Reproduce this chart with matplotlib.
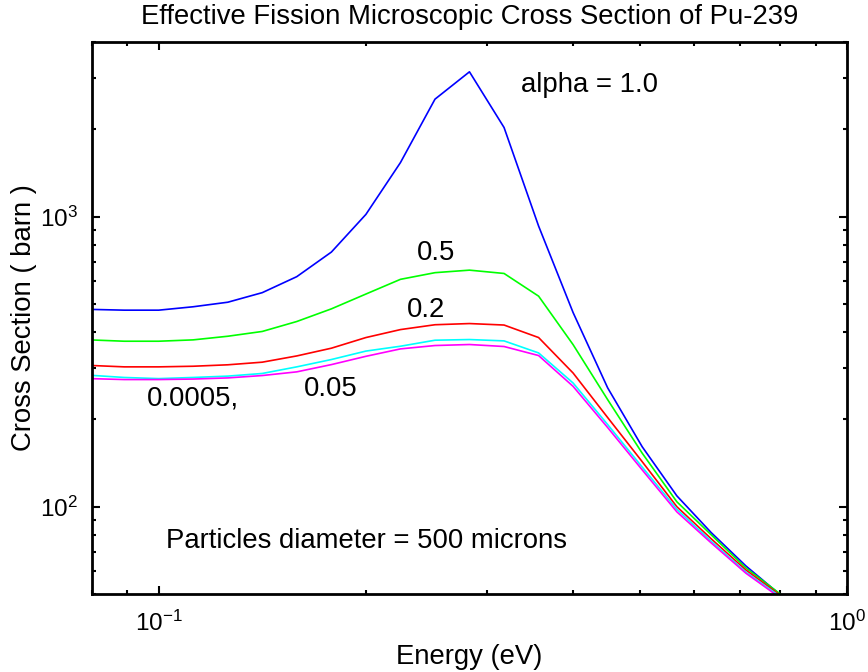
import matplotlib
matplotlib.use('Agg')
import matplotlib.pyplot as plt

plt.rcParams['font.family'] = ['Liberation Sans', 'DejaVu Sans']
plt.rcParams['mathtext.fontset'] = 'custom'
plt.rcParams['mathtext.rm'] = 'Liberation Sans'
plt.rcParams['mathtext.it'] = 'Liberation Sans:italic'
plt.rcParams['mathtext.bf'] = 'Liberation Sans:bold'
plt.rcParams['axes.unicode_minus'] = False

# energy group points (eV)
energy = [0.0794, 0.0891, 0.1, 0.1122, 0.126, 0.1414, 0.1587, 0.1782, 0.2,
          0.2245, 0.252, 0.2828, 0.3175, 0.3564, 0.4, 0.449, 0.504, 0.566,
          0.635, 0.713, 0.8]

# effective fission cross section (barn) for each alpha
sigma_a1 = [479, 476, 476, 489, 507, 547, 621, 755, 1018, 1536, 2541, 3157,
            2029, 928, 467, 257, 161, 109, 81.4, 62.5, 49.7]
sigma_a05 = [376, 372, 372, 376, 387, 402, 435, 481, 541, 608, 641, 654,
             637, 532, 362, 234, 153, 104, 80, 61.5, 50]
sigma_a02 = [307, 303.5, 303.5, 305, 308.5, 315, 331, 352, 383, 408, 424,
             428, 423, 383, 289, 203, 143, 100, 77.5, 60.5, 49.5]
sigma_a005 = [284, 279, 276.5, 279, 282, 288, 303.5, 321.7, 344, 357.5, 375,
              377, 373, 339, 267, 192, 137, 98, 76, 59.5, 49]
sigma_a00005 = [276.5, 274.4, 274.4, 275.5, 278, 283.3, 291.7, 309, 330, 350,
                359.5, 362.4, 356.7, 332, 260, 187.5, 134, 96, 75, 59, 48.5]

fig = plt.figure(figsize=(8.68, 6.72), dpi=100)
ax = fig.add_axes([0.106, 0.116, 0.8698, 0.8215])

ax.loglog(energy, sigma_a1, color=(0, 0, 1), lw=1.2)
ax.loglog(energy, sigma_a05, color=(0, 1, 0), lw=1.2)
ax.loglog(energy, sigma_a02, color=(1, 0, 0), lw=1.2)
ax.loglog(energy, sigma_a005, color=(0, 1, 1), lw=1.2)
ax.loglog(energy, sigma_a00005, color=(1, 0, 1), lw=1.2)

ax.set_xlim(0.08, 1.0)
ax.set_ylim(50, 4000)

# curve labels
fs = 19.8
ax.text(0.3364, 2840, 'alpha = 1.0', fontsize=fs, ha='left', va='center')
ax.text(0.253, 747, '0.5', fontsize=fs, ha='center', va='center')
ax.text(0.2446, 475, '0.2', fontsize=fs, ha='center', va='center')
ax.text(0.178, 255.5, '0.05', fontsize=fs, ha='center', va='center')
ax.text(0.0961, 236, '0.0005,', fontsize=fs, ha='left', va='center')
ax.text(0.1025, 76.3, 'Particles diameter = 500 microns', fontsize=fs,
        ha='left', va='center')

ax.set_title('Effective Fission Microscopic Cross Section of Pu-239',
             fontsize=fs, pad=13)
ax.set_xlabel('Energy (eV)', fontsize=fs, labelpad=6)
ax.set_ylabel('Cross Section ( barn )', fontsize=fs, labelpad=2)

for s in ax.spines.values():
    s.set_linewidth(2.0)
ax.tick_params(which='both', direction='in', top=True, right=True,
               width=1.5, labelsize=17.5)
ax.tick_params(axis='x', which='both', pad=12)
ax.tick_params(axis='y', which='both', pad=10)
ax.tick_params(which='major', length=5.5)
ax.tick_params(which='minor', length=3.2)

fig.savefig('out.png', dpi=100)
